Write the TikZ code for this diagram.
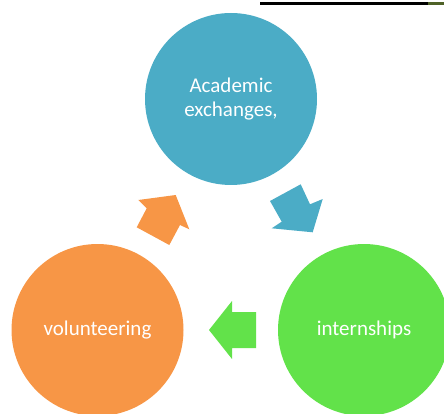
\documentclass[tikz,border=0pt]{standalone}
\usepackage{fontspec}
\setmainfont{Carlito}
\definecolor{cblue}{HTML}{4BACC6}
\definecolor{corange}{HTML}{F79646}
\definecolor{cgreen}{HTML}{62E24A}
\definecolor{colive}{HTML}{4F6228}
\tikzset{
  bubble/.style={circle, minimum size=172pt, inner sep=0pt, text=white,
    font=\fontsize{21}{24}\selectfont, align=center},
}
\begin{document}
\begin{tikzpicture}[x=1pt,y=-1pt]
\useasboundingbox (0,0) rectangle (444,414);
\clip (0,0) rectangle (444,414);
% top rule
\fill[black] (260,1.7) rectangle (428,5);
\fill[colive] (428,1.7) rectangle (444,5);
% circles
\node[bubble, fill=cblue] (acad) at (231,99) {Academic\\exchanges,};
\node[bubble, fill=cgreen] (intern) at (364,330) {internships};
\node[bubble, fill=corange] (vol) at (97.5,330) {volunteering};
% arrows
\fill[cblue] (270,201) -- (300.7,184.3) -- (310,204.3) -- (322.7,199)
  -- (312.7,232.3) -- (271.7,228.3) -- (281.7,221.7) -- cycle;
\fill[cgreen] (256,312) -- (232,312) -- (232,301) -- (209,330)
  -- (232,359) -- (232,348) -- (256,348) -- cycle;
\fill[corange] (175.7,195) -- (138.3,200) -- (146.7,208.3) -- (136.7,227.3)
  -- (169.3,245) -- (180,225) -- (189.3,229.3) -- cycle;
\end{tikzpicture}
\end{document}
